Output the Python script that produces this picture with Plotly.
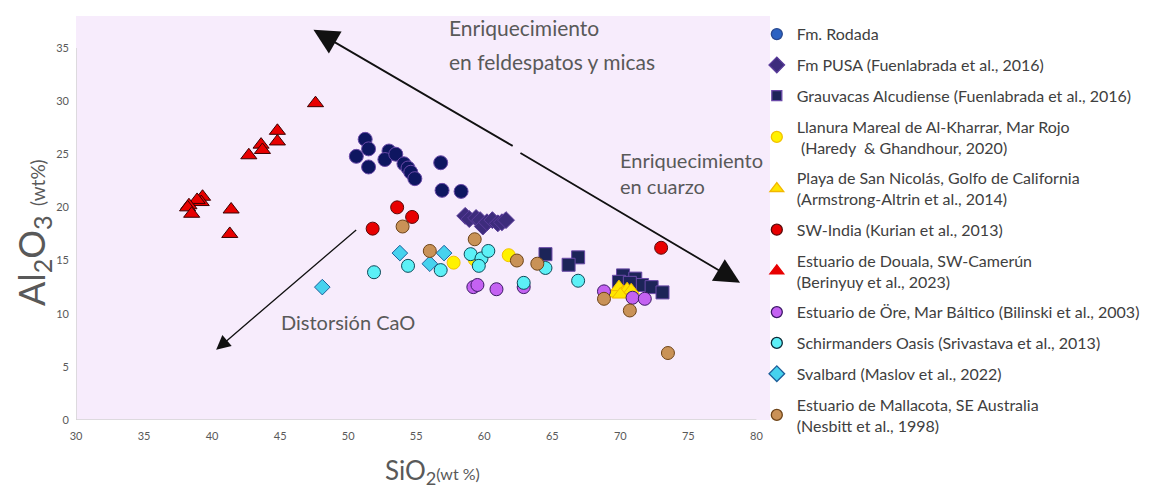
import plotly.graph_objects as go

# ---------------- data (SiO2 wt%, Al2O3 wt%) ----------------
rodada_x = [51.25, 51.5, 50.6, 51.5, 53.0, 52.7, 53.5, 54.1, 54.4, 54.6, 54.9, 56.8, 56.9, 58.3]
rodada_y = [26.4, 25.5, 24.8, 23.8, 25.3, 24.5, 25.0, 24.1, 23.7, 23.3, 22.7, 24.2, 21.6, 21.5]

pusa_x = [58.6, 58.9, 59.4, 59.7, 59.9, 60.2, 60.6, 61.0, 61.3, 61.6]
pusa_y = [19.2, 18.9, 19.0, 18.8, 18.2, 18.6, 18.8, 18.5, 18.6, 18.8]

grau_x = [64.5, 66.9, 66.2, 70.2, 69.9, 71.1, 71.6, 72.3, 73.1, 70.7]
grau_y = [15.6, 15.3, 14.6, 13.6, 13.0, 13.3, 12.7, 12.5, 12.0, 12.9]

kharrar_x = [57.75, 59.3, 61.8]
kharrar_y = [14.8, 15.1, 15.5]

nicolas_x = [69.6, 69.9, 70.2, 70.5, 70.8, 70.0]
nicolas_y = [11.9, 12.5, 12.0, 12.3, 12.2, 11.8]

india_x = [53.6, 54.7, 51.8, 73.0]
india_y = [20.0, 19.1, 18.0, 16.2]

douala_x = [47.6, 44.8, 44.8, 43.6, 43.7, 42.7, 39.3, 39.2, 38.9, 38.3, 38.2, 38.5, 41.4, 41.3]
douala_y = [29.8, 27.2, 26.2, 25.9, 25.4, 24.9, 21.0, 20.5, 20.7, 20.2, 20.0, 19.4, 19.8, 17.5]

ore_x = [59.2, 59.5, 60.9, 62.9, 68.8, 70.9, 71.8]
ore_y = [12.5, 12.7, 12.3, 12.5, 12.1, 11.5, 11.4]

schir_x = [51.9, 54.4, 56.8, 59.0, 59.8, 60.3, 59.6, 62.9, 64.5, 66.9]
schir_y = [13.9, 14.5, 14.1, 15.6, 15.2, 15.9, 14.5, 12.9, 14.3, 13.1]

svalbard_x = [48.1, 53.8, 56.0, 57.05]
svalbard_y = [12.5, 15.7, 14.7, 15.7]

mallacota_x = [54.0, 56.0, 59.3, 62.4, 63.9, 68.8, 70.7, 73.5]
mallacota_y = [18.2, 15.9, 17.0, 15.0, 14.7, 11.4, 10.3, 6.3]

x_ticks = [30, 35, 40, 45, 50, 55, 60, 65, 70, 75, 80]
y_ticks = [0, 5, 10, 15, 20, 25, 30, 35]

FONT = "Lato, 'Noto Sans', sans-serif"
GREY = "#595959"

fig = go.Figure()

series = [
    # name, x, y, symbol, plot fill, plot line, plot size, legend fill, legend line, legend size
    ("Fm. Rodada", rodada_x, rodada_y, "circle", "#0e1660", "#6a4aa8", 14, "#2b63c2", "#2a4a90", 11),
    ("Fm PUSA (Fuenlabrada et al., 2016)", pusa_x, pusa_y, "diamond", "#3d2c7c", "#5a3c9a", 13,
     "#3d2c7c", "#5a3c9a", 12),
    ("Grauvacas Alcudiense (Fuenlabrada et al., 2016)", grau_x, grau_y, "square", "#1c2458", "#6a4aa8", 13,
     "#1c2458", "#6a4aa8", 10),
    ("Llanura Mareal de Al-Kharrar, Mar Rojo<br> (Haredy  & Ghandhour, 2020)", kharrar_x, kharrar_y,
     "circle", "#fff200", "#f2c200", 13, "#fff200", "#f2c200", 11),
    ("Playa de San Nicolás, Golfo de California<br>(Armstrong-Altrin et al., 2014)", nicolas_x, nicolas_y,
     "triangle-up", "#ffe600", "#f2b800", 14, "#ffe600", "#f2b800", 12),
    ("SW-India (Kurian et al., 2013)", india_x, india_y, "circle", "#e80000", "#5a0a0a", 13,
     "#e80000", "#5a0a0a", 11),
    ("Estuario de Douala, SW-Camerún<br>(Berinyuy et al., 2023)", douala_x, douala_y,
     "triangle-up", "#e80000", "#3a0000", 14, "#e80000", "#e80000", 12),
    ("Estuario de Öre, Mar Báltico (Bilinski et al., 2003)", ore_x, ore_y, "circle", "#c462f2", "#3c1a66", 13,
     "#c462f2", "#3c1a66", 11),
    ("Schirmanders Oasis (Srivastava et al., 2013)", schir_x, schir_y, "circle", "#5cf0f6", "#104858", 13,
     "#5cf0f6", "#0a2a38", 11),
    ("Svalbard (Maslov et al., 2022)", svalbard_x, svalbard_y, "diamond", "#46d2ee", "#1d5f9a", 12,
     "#46d2ee", "#1d5f9a", 12),
    ("Estuario de Mallacota, SE Australia<br>(Nesbitt et al., 1998)", mallacota_x, mallacota_y,
     "circle", "#c99257", "#6e4418", 13, "#c99257", "#6e4418", 11),
]

for i, (name, x, y, sym, fill, line, size, lfill, lline, lsize) in enumerate(series):
    grp = f"g{i}"
    # legend entry (symbol as drawn in the legend)
    fig.add_trace(go.Scatter(x=[None], y=[None], mode="markers", name=name, legendgroup=grp,
                             showlegend=True,
                             marker=dict(symbol=sym, color=lfill, size=lsize,
                                         line=dict(color=lline, width=1.3))))
    # data points
    fig.add_trace(go.Scatter(x=x, y=y, mode="markers", name=name, legendgroup=grp, showlegend=False,
                             marker=dict(symbol=sym, color=fill, size=size,
                                         line=dict(color=line, width=1))))

# axis lines
fig.add_shape(type="line", xref="x", yref="y", x0=30, x1=80, y0=0, y1=0,
              line=dict(color="#d4d4d4", width=1.5))
fig.add_shape(type="line", xref="x", yref="y", x0=30, x1=30, y0=0, y1=35,
              line=dict(color="#d4d4d4", width=1.5))

# arrows
arrows = [
    dict(x=47.45, y=36.7, ax=62.2, ay=25.7, w=1.8, s=2.8),
    dict(x=78.8, y=12.9, ax=62.55, ay=25.2, w=1.8, s=2.8),
    dict(x=40.3, y=6.6, ax=50.7, ay=18.0, w=1.3, s=2.2),
]
for a in arrows:
    fig.add_annotation(x=a["x"], y=a["y"], ax=a["ax"], ay=a["ay"], xref="x", yref="y",
                       axref="x", ayref="y", showarrow=True, arrowhead=2, arrowsize=a["s"],
                       arrowwidth=a["w"], arrowcolor="#111111", text="")

def note(x, y, t, size, anchor="left"):
    fig.add_annotation(x=x, y=y, xref="x", yref="y", text=t, showarrow=False,
                       xanchor=anchor, font=dict(family=FONT, size=size, color=GREY))

note(57.3, 36.9, "Enriquecimiento", 21)
note(57.3, 33.7, "en feldespatos y micas", 21)
note(69.8, 24.5, "Enriquecimiento", 20)
note(69.8, 22.0, "en cuarzo", 20)
note(50.0, 9.2, "Distorsión CaO", 20, anchor="center")

# axis titles
fig.add_annotation(x=0.513, y=-0.127, xref="paper", yref="paper", showarrow=False,
                   xanchor="center", yanchor="middle",
                   text="SiO<sub>2</sub><span style='font-size:16px'>(wt %)</span>",
                   font=dict(family=FONT, size=26, color=GREY))
fig.add_annotation(x=-0.062, y=0.465, xref="paper", yref="paper", showarrow=False, textangle=-90,
                   xanchor="center", yanchor="middle",
                   text="Al<sub>2</sub>O<sub>3</sub> <span style='font-size:19px'>(wt%)</span>",
                   font=dict(family=FONT, size=36, color=GREY))

# note: page body adds an 8px offset, so the figure is sized to fit the window
fig.update_layout(
    width=1141, height=484,
    margin=dict(l=68, r=379, t=8, b=72, autoexpand=False),
    paper_bgcolor="white", plot_bgcolor="#f7ecfc",
    font=dict(family=FONT, color="#404040"),
    showlegend=True,
    legend=dict(x=0.981, y=0.997, xanchor="left", yanchor="top", traceorder="grouped",
                tracegroupgap=7, font=dict(family=FONT, size=16, color="#404040"),
                bgcolor="rgba(0,0,0,0)", itemsizing="trace", maxheight=1000),
    xaxis=dict(range=[30, 81], tickvals=x_ticks, ticktext=[str(v) for v in x_ticks],
               showgrid=False, zeroline=False, showline=False, ticks="", ticklabelstandoff=8,
               tickfont=dict(family=FONT, size=11, color=GREY)),
    yaxis=dict(range=[0, 38], tickvals=y_ticks, ticktext=[str(v) for v in y_ticks],
               showgrid=False, zeroline=False, showline=False, ticks="", ticklabelstandoff=6,
               tickfont=dict(family=FONT, size=11, color=GREY)),
)

fig.write_html("out.html")
